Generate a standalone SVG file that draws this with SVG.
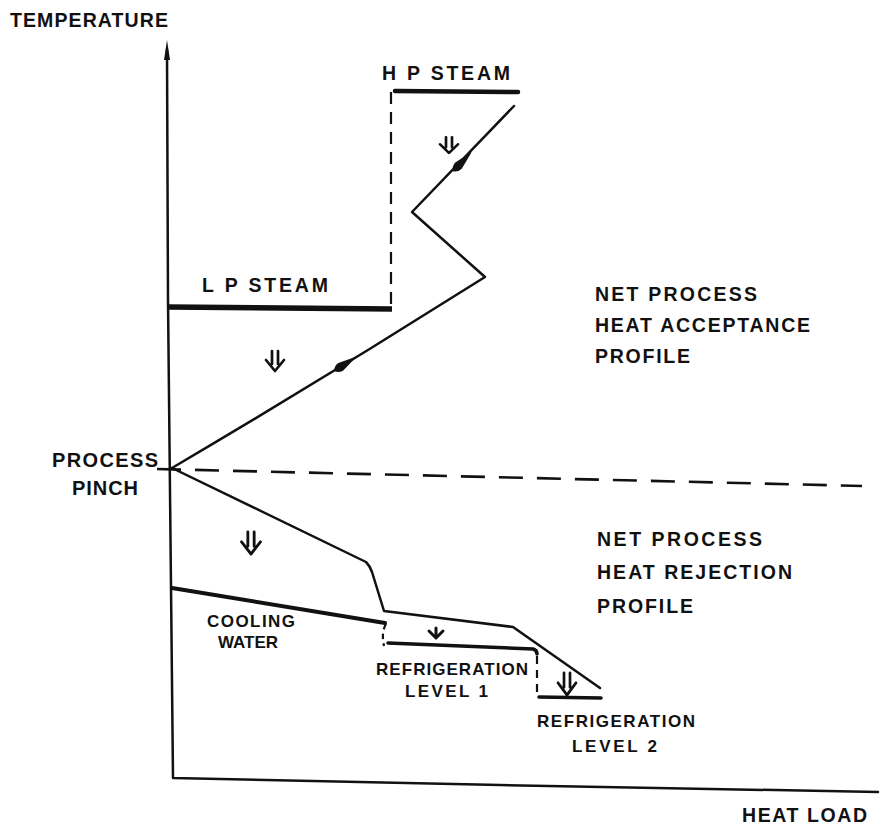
<svg xmlns="http://www.w3.org/2000/svg" width="883" height="827" viewBox="0 0 883 827">
<style>
text{font-family:"Liberation Sans",Arial,sans-serif;font-weight:bold;fill:#111;}
.t18{font-size:19.5px;}
.t16{font-size:17px;}
.ln{fill:none;stroke:#111;stroke-width:2.5;stroke-linecap:round;stroke-linejoin:round;}
.thick{fill:none;stroke:#111;stroke-width:4.5;stroke-linecap:round;}
.dash{fill:none;stroke:#111;stroke-width:2.2;stroke-dasharray:12 8;}
.pinch{fill:none;stroke:#111;stroke-width:2.6;stroke-dasharray:24 14;}
.arr{fill:none;stroke:#111;stroke-width:2.7;stroke-linecap:round;stroke-linejoin:round;}
</style>
<defs>
<g id="dbl">
<path class="arr" d="M-3,0 V13 M3,0 V13 M-9,9 L0,20 L9,9"/>
</g>
<path id="spindle" d="M-13,0 Q-10,-4.5 -5,-4.5 L14,0 L-5,4.5 Q-10,4.5 -13,0 Z" fill="#111"/>
</defs>
<rect width="883" height="827" fill="#fff"/>
<g id="axes">
<path class="ln" d="M167,50 L168,300 L173,778 L500,785 L878,792"/>
<path d="M167,40 L170,60 L164,60 Z" fill="#111"/>
</g>
<g id="pinch-line">
<path class="pinch" d="M157,469 L862,486"/>
</g>
<g id="hot-profile">
<path class="ln" d="M172,468 Q330,375 485,277 L412,212 L514,106"/>
<use href="#spindle" transform="translate(345,364) rotate(-33)"/>
<use href="#spindle" transform="translate(462,162) rotate(-46)"/>
</g>
<g id="cold-profile">
<path class="ln" d="M172,468 L366,562 Q370,566 372,572 L384,611 L513,627 L600,688"/>
</g>
<g id="hp-steam">
<path class="thick" d="M395,91 L518,92"/>
<path class="dash" d="M391,92 V308"/>
<text class="t18" x="382" y="80" textLength="128" lengthAdjust="spacing">H P STEAM</text>
</g>
<g id="lp-steam">
<path class="thick" style="stroke-width:5.5;stroke-linecap:butt" d="M169,307 L392,309"/>
<text class="t18" x="202" y="292" textLength="126" lengthAdjust="spacing">L P STEAM</text>
</g>
<g id="cooling-water">
<path class="thick" style="stroke-width:4" d="M172,588 L385,623"/>
<text class="t16" x="207" y="627" textLength="88" lengthAdjust="spacing">COOLING</text>
<text class="t16" x="218" y="648" textLength="60" lengthAdjust="spacing">WATER</text>
</g>
<g id="refrigeration-1">
<path class="dash" style="stroke-dasharray:6 4" d="M386,624 Q381,632 384,646"/>
<path class="thick" style="stroke-width:3.5" d="M388,643 L533,649 Q537,650 537,654"/>
<text class="t16" x="376" y="675" textLength="152" lengthAdjust="spacing">REFRIGERATION</text>
<text class="t16" x="405" y="697" textLength="83" lengthAdjust="spacing">LEVEL 1</text>
</g>
<g id="refrigeration-2">
<path class="dash" style="stroke-dasharray:8 6" d="M537,656 V695"/>
<path class="thick" style="stroke-width:3.5" d="M539,697 L601,698"/>
<text class="t16" x="537" y="727" textLength="158" lengthAdjust="spacing">REFRIGERATION</text>
<text class="t16" x="572" y="752" textLength="85" lengthAdjust="spacing">LEVEL 2</text>
</g>
<g id="heat-arrows">
<use href="#dbl" transform="translate(275,351)"/>
<use href="#dbl" transform="translate(449,137) scale(1,0.8)"/>
<use href="#dbl" transform="translate(251,532) scale(1.05,1.1)"/>
<path class="arr" style="stroke-width:3" d="M436,628 V637 M429,631 L436,638 L443,631"/>
<use href="#dbl" transform="translate(567,673) scale(1,1.1)"/>
</g>
<g id="labels">
<text class="t18" x="10" y="27" textLength="158" lengthAdjust="spacing">TEMPERATURE</text>
<text class="t18" x="742" y="822" textLength="125" lengthAdjust="spacing">HEAT LOAD</text>
<text class="t18" style="font-size:20px" x="52" y="467" textLength="106" lengthAdjust="spacing">PROCESS</text>
<text class="t18" style="font-size:20px" x="72" y="495" textLength="66" lengthAdjust="spacing">PINCH</text>
<text class="t18" x="595" y="301" textLength="162" lengthAdjust="spacing">NET PROCESS</text>
<text class="t18" x="595" y="332" textLength="215" lengthAdjust="spacing">HEAT ACCEPTANCE</text>
<text class="t18" x="595" y="363" textLength="95" lengthAdjust="spacing">PROFILE</text>
<text class="t18" x="597" y="546" textLength="165" lengthAdjust="spacing">NET PROCESS</text>
<text class="t18" x="597" y="579" textLength="195" lengthAdjust="spacing">HEAT REJECTION</text>
<text class="t18" x="597" y="613" textLength="96" lengthAdjust="spacing">PROFILE</text>
</g>
</svg>
